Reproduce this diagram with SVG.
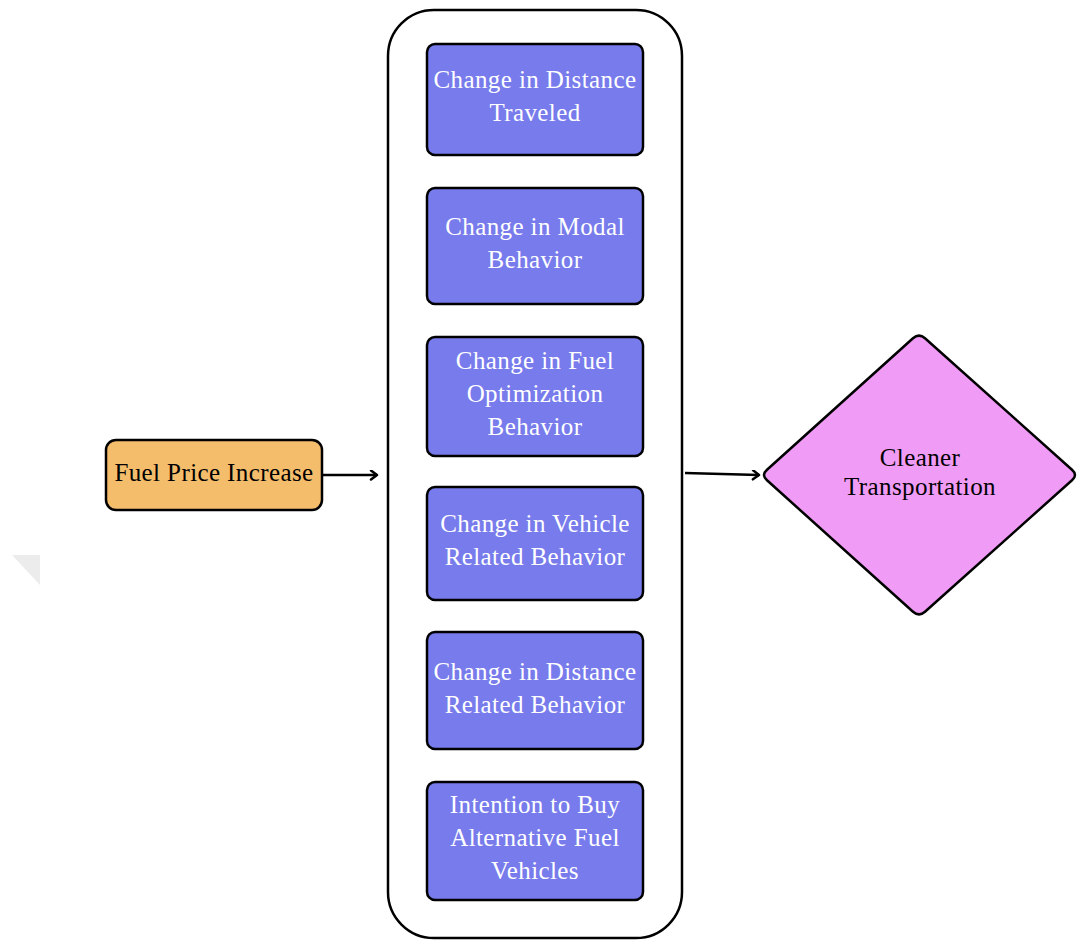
<svg xmlns="http://www.w3.org/2000/svg" width="1077" height="941" viewBox="0 0 1077 941">
  <style>
    .box { fill: #777BEB; stroke: #000; stroke-width: 2.5; }
    .wt { font-family: "Liberation Serif", "Times New Roman", serif; font-size: 25px; fill: #FFFFFF; text-anchor: middle; letter-spacing: 0.4px; }
    .bt { font-family: "Liberation Serif", "Times New Roman", serif; font-size: 25px; fill: #000000; text-anchor: middle; letter-spacing: 0.4px; }
    .conn { stroke: #000; stroke-width: 2.5; fill: none; }
  </style>
  <defs>
    <marker id="arr" markerWidth="12" markerHeight="12" refX="8" refY="5" orient="auto" markerUnits="userSpaceOnUse">
      <path d="M2,0.5 L8,5 L2,9.5" fill="none" stroke="#000" stroke-width="2.5" stroke-linecap="round" stroke-linejoin="round"/>
    </marker>
  </defs>
  <rect width="1077" height="941" fill="#FFFFFF"/>
  <polygon points="12,555 40,555 40,585" fill="#ECECEC"/>

  <g id="container">
    <rect x="388" y="10" width="294" height="928" rx="46" ry="46" fill="#FFFFFF" stroke="#000" stroke-width="2.5"/>
  </g>

  <g id="fuel-price-increase">
    <rect x="106" y="440" width="216" height="70" rx="10" ry="10" fill="#F4BD6C" stroke="#000" stroke-width="2.5"/>
    <text class="bt" x="214" y="481">Fuel Price Increase</text>
  </g>

  <g id="distance-traveled">
    <rect class="box" x="427" y="44" width="216" height="111" rx="8" ry="8"/>
    <text class="wt" x="535" y="88">Change in Distance</text>
    <text class="wt" x="535" y="121">Traveled</text>
  </g>

  <g id="modal-behavior">
    <rect class="box" x="427" y="188" width="216" height="116" rx="8" ry="8"/>
    <text class="wt" x="535" y="235">Change in Modal</text>
    <text class="wt" x="535" y="268">Behavior</text>
  </g>

  <g id="fuel-optimization">
    <rect class="box" x="427" y="337" width="216" height="119" rx="8" ry="8"/>
    <text class="wt" x="535" y="369">Change in Fuel</text>
    <text class="wt" x="535" y="402">Optimization</text>
    <text class="wt" x="535" y="435">Behavior</text>
  </g>

  <g id="vehicle-related">
    <rect class="box" x="427" y="487" width="216" height="113" rx="8" ry="8"/>
    <text class="wt" x="535" y="532">Change in Vehicle</text>
    <text class="wt" x="535" y="565">Related Behavior</text>
  </g>

  <g id="distance-related">
    <rect class="box" x="427" y="632" width="216" height="117" rx="8" ry="8"/>
    <text class="wt" x="535" y="680">Change in Distance</text>
    <text class="wt" x="535" y="713">Related Behavior</text>
  </g>

  <g id="alt-fuel-vehicles">
    <rect class="box" x="427" y="782" width="216" height="118" rx="8" ry="8"/>
    <text class="wt" x="535" y="813">Intention to Buy</text>
    <text class="wt" x="535" y="846">Alternative Fuel</text>
    <text class="wt" x="535" y="879">Vehicles</text>
  </g>

  <g id="cleaner-transportation">
    <path d="M913,338.3 Q919,333 925,338.3 L1072,469.7 Q1078,475 1072,480.3 L925,611.7 Q919,617 913,611.7 L767,480.3 Q761,475 767,469.7 Z" fill="#F09CF6" stroke="#000" stroke-width="2.5"/>
    <text class="bt" x="920" y="466">Cleaner</text>
    <text class="bt" x="920" y="495">Transportation</text>
  </g>

  <g id="connectors">
    <line class="conn" x1="323" y1="475" x2="377" y2="475" marker-end="url(#arr)"/>
    <line class="conn" x1="685" y1="473" x2="759" y2="475" marker-end="url(#arr)"/>
  </g>
</svg>
